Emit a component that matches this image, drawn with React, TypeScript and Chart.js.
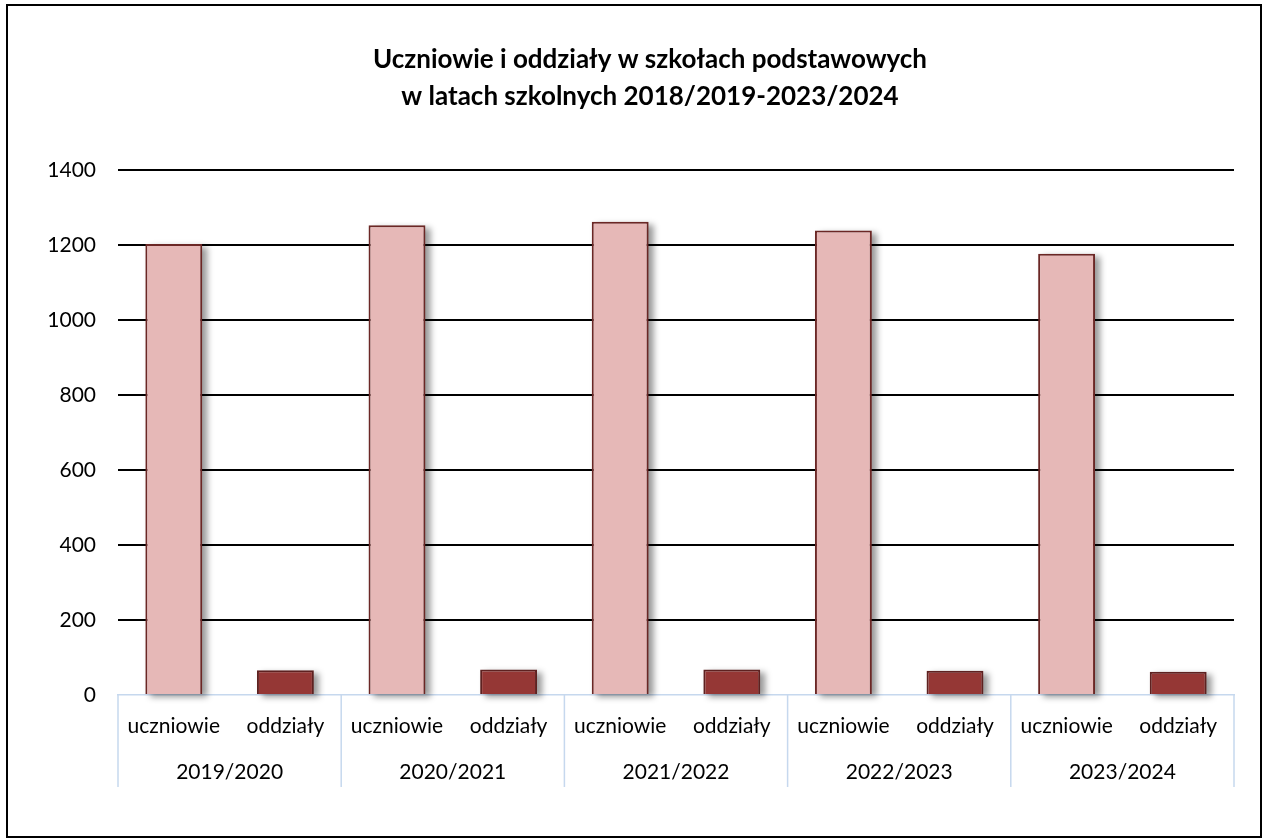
import React, { useEffect, useRef } from "react";
import { Chart, registerables } from "chart.js";

Chart.register(...registerables);

const titleLines = [
  "Uczniowie i oddziały w szkołach podstawowych",
  "w latach szkolnych 2018/2019-2023/2024",
];
const years = ["2019/2020", "2020/2021", "2021/2022", "2022/2023", "2023/2024"];
const kinds = ["uczniowie", "oddziały"];
const uczniowie = [1203, 1253, 1262, 1239, 1177];
const oddzialy = [66, 68, 68, 65, 62];
const yTicks = [0, 200, 400, 600, 800, 1000, 1200, 1400];

const FONT = "Lato, 'Noto Sans', sans-serif";
const AXIS_BLUE = "#c6d8ee";

export default function App() {
  const ref = useRef<HTMLCanvasElement | null>(null);

  useEffect(() => {
    if (!ref.current) return;
    const labels: string[] = [];
    const dU: (number | null)[] = [];
    const dO: (number | null)[] = [];
    years.forEach((_, i) => {
      labels.push(kinds[0], kinds[1]);
      dU.push(uczniowie[i], null);
      dO.push(null, oddzialy[i]);
    });

    const shadowPlugin = {
      id: "barShadow",
      beforeDatasetsDraw(chart: any) {
        const ctx = chart.ctx;
        ctx.save();
        ctx.filter = "blur(3px)";
        ctx.fillStyle = "rgba(0,0,0,0.4)";
        chart.data.datasets.forEach((_: any, di: number) => {
          const meta = chart.getDatasetMeta(di);
          meta.data.forEach((bar: any, idx: number) => {
            const v = chart.data.datasets[di].data[idx];
            if (v === null || v === undefined) return;
            const p = bar.getProps(["x", "y", "base", "width"], true);
            ctx.fillRect(p.x - p.width / 2 + 5, p.y + 3, p.width, p.base - p.y);
          });
        });
        ctx.restore();
      },
    };

    const groupPlugin = {
      id: "groupAxis",
      afterDraw(chart: any) {
        const ctx = chart.ctx;
        const x = chart.scales.x;
        const bottom = chart.chartArea.bottom;
        const half = (x.getPixelForValue(1) - x.getPixelForValue(0)) / 2;
        ctx.save();
        ctx.strokeStyle = AXIS_BLUE;
        ctx.lineWidth = 1.5;
        for (let i = 0; i <= years.length; i++) {
          const px = i < years.length ? x.getPixelForValue(i * 2) - half : x.getPixelForValue(i * 2 - 1) + half;
          ctx.beginPath();
          ctx.moveTo(px, bottom);
          ctx.lineTo(px, bottom + 92);
          ctx.stroke();
        }
        ctx.fillStyle = "#000";
        ctx.font = `21px ${FONT}`;
        ctx.textAlign = "center";
        ctx.textBaseline = "middle";
        years.forEach((y, i) => {
          const cx = (x.getPixelForValue(i * 2) + x.getPixelForValue(i * 2 + 1)) / 2;
          ctx.fillText(y, cx, bottom + 77);
        });
        ctx.font = `bold 26px ${FONT}`;
        titleLines.forEach((t, i) => {
          ctx.fillText(t, 650, 60 + i * 37);
        });
        ctx.restore();
      },
    };

    const chart = new Chart(ref.current, {
      type: "bar",
      data: {
        labels,
        datasets: [
          {
            label: "uczniowie",
            data: dU,
            backgroundColor: "#e6b8b7",
            borderColor: "#6b2725",
            borderWidth: 2,
          },
          {
            label: "oddziały",
            data: dO,
            backgroundColor: "#953735",
            borderColor: "#5e2120",
            borderWidth: 2,
          },
        ],
      },
      options: {
        responsive: false,
        animation: false,
        devicePixelRatio: 1,
        layout: { padding: { top: 170, right: 33, left: 0, bottom: 0 } },
        datasets: {
          bar: { skipNull: true, categoryPercentage: 1, barPercentage: 0.51 },
        },
        plugins: {
          legend: { display: false },
          title: { display: false },
          tooltip: { enabled: false },
        },
        scales: {
          x: {
            grid: { display: false, drawTicks: false },
            border: { display: true, color: AXIS_BLUE, width: 1.5 },
            ticks: {
              color: "#000",
              font: { family: FONT, size: 21 },
              padding: 19,
              maxRotation: 0,
              autoSkip: false,
            },
            afterFit(s: any) {
              s.height = 145;
            },
          },
          y: {
            min: 0,
            max: 1400,
            afterBuildTicks(s: any) {
              s.ticks = yTicks.map((v) => ({ value: v }));
            },
            grid: {
              drawTicks: false,
              color: (c: any) => (c.tick && c.tick.value === 0 ? "rgba(0,0,0,0)" : "#000"),
              lineWidth: 2,
            },
            border: { display: false },
            ticks: {
              color: "#000",
              font: { family: FONT, size: 21 },
              padding: 22,
              callback: (v: any) => String(v),
            },
            afterFit(s: any) {
              s.width = 118;
            },
          },
        },
      },
      plugins: [shadowPlugin, groupPlugin],
    });
    return () => chart.destroy();
  }, []);

  return (
    <div style={{ position: "absolute", left: 0, top: 0, width: 1267, height: 840, background: "#fff" }}>
      <canvas ref={ref} width={1267} height={840} style={{ position: "absolute", left: 0, top: 0 }} />
      <div
        style={{
          position: "absolute",
          left: 6,
          top: 4,
          width: 1256,
          height: 834,
          border: "2px solid #000",
          boxSizing: "border-box",
          pointerEvents: "none",
        }}
      />
    </div>
  );
}
